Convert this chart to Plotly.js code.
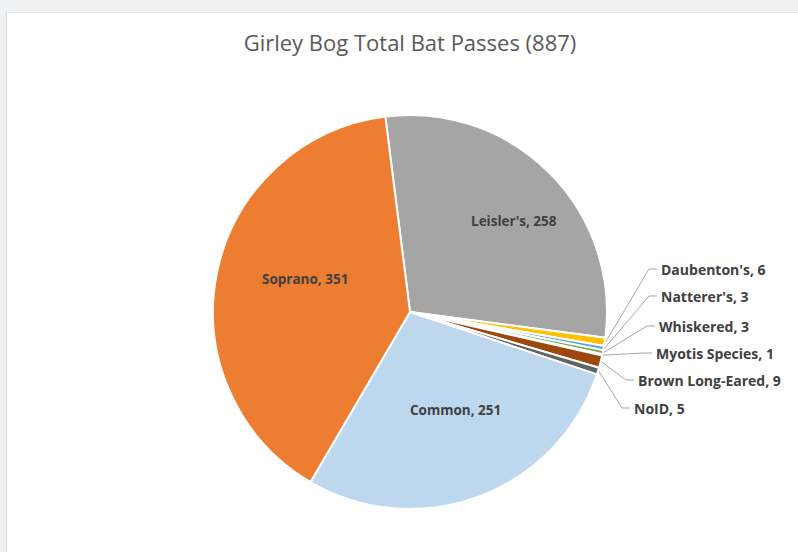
<!DOCTYPE html>
<html>
<head>
<meta charset="utf-8">
<script src="https://cdn.plot.ly/plotly-3.0.1.min.js"></script>
<style>
  html, body { margin: 0; padding: 0; width: 798px; height: 552px; overflow: hidden; background: #f0f1f3; }
  #card { position: absolute; left: 6px; top: 12px; width: 800px; height: 560px; background: #ffffff; border-left: 1px solid #d9d9d9; border-top: 1px solid #e2e2e2; }
  #chart { position: absolute; left: 0; top: 0; width: 798px; height: 552px; }
</style>
</head>
<body>
<div id="card"></div>
<div id="chart"></div>
<script>
// ---- data ----
const categories = ["Leisler's", "Daubenton's", "Natterer's", "Whiskered", "Myotis Species", "Brown Long-Eared", "NoID", "Common", "Soprano"];
const values = [258, 6, 3, 3, 1, 9, 5, 251, 351];
const colors = ["#A5A5A5", "#FFC000", "#5B9BD5", "#70AD47", "#264478", "#9E480E", "#636363", "#BDD7EE", "#ED7D31"];
const chartTitle = "Girley Bog Total Bat Passes (887)";

// ---- layout constants (pixels) ----
const W = 798, H = 552;
const cx = 410, cy = 312, R = 197;
const startAngle = -7.2; // degrees clockwise from 12 o'clock
// label centres for the large slices
const insideAnchors = {
  "Leisler's": [514, 221],
  "Common": [455, 410],
  "Soprano": [305, 279]
};
// outside label anchors (left-middle of each label) for small slices
const outsideAnchors = {
  "Daubenton's": [657, 269],
  "Natterer's": [657, 296],
  "Whiskered": [655, 326],
  "Myotis Species": [652, 353],
  "Brown Long-Eared": [634, 380],
  "NoID": [630, 408]
};

const px2x = p => p / W;
const px2y = p => 1 - p / H;
const fam = "Open Sans, Noto Sans, sans-serif";

const trace = {
  type: "pie",
  labels: categories,
  values: values,
  sort: false,
  direction: "clockwise",
  rotation: startAngle,
  marker: { colors: colors, line: { color: "#ffffff", width: 2 } },
  textinfo: "none",
  hoverinfo: "label+value",
  domain: { x: [px2x(cx - R), px2x(cx + R)], y: [px2y(cy + R), px2y(cy - R)] },
  showlegend: false
};

// leader lines + labels, computed from slice angles
const total = values.reduce((a, b) => a + b, 0);
const shapes = [];
const annotations = [];
let cum = 0;
categories.forEach((c, i) => {
  const mid = startAngle + (cum + values[i] / 2) / total * 360;
  cum += values[i];
  const label = "<b>" + c + ", " + values[i] + "</b>";
  if (insideAnchors[c]) {
    const [lx, ly] = insideAnchors[c];
    annotations.push({
      xref: "paper", yref: "paper", x: px2x(lx), y: px2y(ly),
      xanchor: "center", yanchor: "middle", showarrow: false,
      text: label, font: { family: fam, size: 13.5, color: "#404040" }
    });
    return;
  }
  if (!outsideAnchors[c]) return;
  const rad = mid * Math.PI / 180;
  const ex = cx + (R + 1) * Math.sin(rad);
  const ey = cy - (R + 1) * Math.cos(rad);
  const [ax, ay] = outsideAnchors[c];
  const elbowX = ax - 8;
  shapes.push({
    type: "path", xref: "paper", yref: "paper",
    path: "M " + px2x(ex) + "," + px2y(ey) + " L " + px2x(elbowX) + "," + px2y(ay) + " L " + px2x(ax) + "," + px2y(ay),
    line: { color: "#a6a6a6", width: 1 }
  });
  annotations.push({
    xref: "paper", yref: "paper", x: px2x(ax + 2), y: px2y(ay),
    xanchor: "left", yanchor: "middle", showarrow: false,
    text: label, font: { family: fam, size: 14, color: "#404040" }
  });
});

const layout = {
  width: W, height: H,
  margin: { l: 0, r: 0, t: 0, b: 0 },
  paper_bgcolor: "rgba(0,0,0,0)",
  plot_bgcolor: "rgba(0,0,0,0)",
  title: {
    text: chartTitle,
    font: { family: fam, size: 22, color: "#595959" },
    x: px2x(410), xanchor: "center", xref: "paper",
    y: px2y(43), yanchor: "middle", yref: "paper"
  },
  shapes: shapes,
  annotations: annotations
};

Plotly.newPlot("chart", [trace], layout, { displayModeBar: false, staticPlot: true });
</script>
</body>
</html>
